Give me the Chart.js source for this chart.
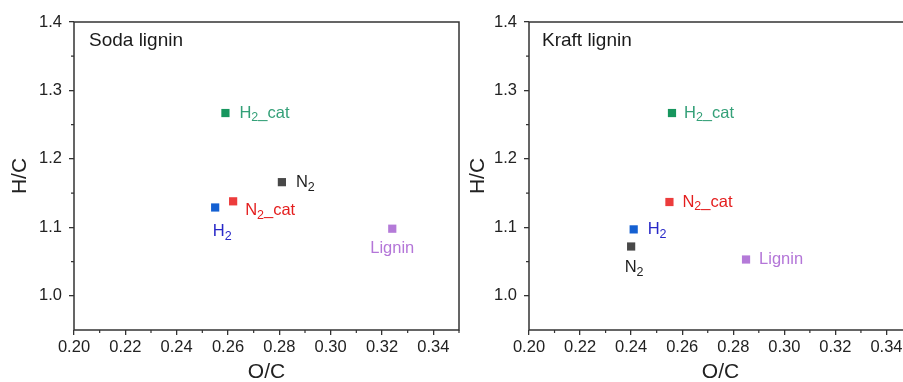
<!DOCTYPE html>
<html><head><meta charset="utf-8">
<script src="https://cdn.jsdelivr.net/npm/chart.js@4/dist/chart.umd.min.js"></script>
<style>
html,body{margin:0;padding:0;background:#fff;overflow:hidden;width:903px;height:382px;position:relative}
.wrap{position:absolute;top:0;height:382px}
#w1{left:0;width:461px}
#clip{position:absolute;left:460px;top:0;width:443px;height:382px;overflow:hidden}
#w2{left:0;width:454px}
</style></head><body>
<div class="wrap" id="w1"><canvas id="c1"></canvas></div>
<div id="clip"><div class="wrap" id="w2"><canvas id="c2"></canvas></div></div>
<script>
// ---- data ----
const seriesNames = ['N2', 'H2', 'N2_cat', 'H2_cat', 'Lignin'];
const sodaOC  = [0.281, 0.255, 0.262, 0.259, 0.324];
const sodaHC  = [1.166, 1.129, 1.138, 1.267, 1.098];
const kraftOC = [0.240, 0.241, 0.255, 0.256, 0.285];
const kraftHC = [1.072, 1.097, 1.137, 1.267, 1.053];
const xTickValues = [0.20, 0.22, 0.24, 0.26, 0.28, 0.30, 0.32, 0.34];
const xMinorValues = [0.21, 0.23, 0.25, 0.27, 0.29, 0.31, 0.33, 0.35];
const yTickValues = [1.0, 1.1, 1.2, 1.3, 1.4];
const yMinorValues = [1.05, 1.15, 1.25, 1.35];
const panelTitles = ['Soda lignin', 'Kraft lignin'];

// ---- styles ----
const FONT = '"Liberation Sans", Arial, sans-serif';
const markerColors = ['#484848', '#1460d2', '#ec3c3c', '#17965e', '#b47ad8'];
const textColors   = ['#1e1e1e', '#2828c8', '#e41e1e', '#34a078', '#b476d8'];
const AXIS = '#333333';

// label placement relative to each marker: [dx, dy, align]
const sodaLabelPos  = [[14, 0, 'left'], [7, 24, 'center'], [12, 9, 'left'], [14, 0, 'left'], [0, 20, 'center']];
const kraftLabelPos = [[3, 21, 'center'], [14, 0, 'left'], [13, 0, 'left'], [12, 0, 'left'], [13, 0, 'left']];

function drawSubText(ctx, text, x, y, align, color) {
  const big = '16.5px ' + FONT, small = '12.5px ' + FONT;
  const parts = text.split(/(\d)/).filter(s => s.length);
  ctx.save();
  ctx.textBaseline = 'middle';
  ctx.textAlign = 'left';
  ctx.fillStyle = color;
  let w = 0;
  parts.forEach(p => { ctx.font = /\d/.test(p) ? small : big; w += ctx.measureText(p).width; });
  let cx = align === 'center' ? x - w / 2 : x;
  parts.forEach(p => {
    const sub = /\d/.test(p);
    ctx.font = sub ? small : big;
    ctx.fillText(p, cx, sub ? y + 5 : y);
    cx += ctx.measureText(p).width;
  });
  ctx.restore();
}

const framePlugin = {
  id: 'frame',
  afterDraw(chart) {
    const {ctx, chartArea: a, scales} = chart;
    const opts = chart.options.plugins.frame;
    ctx.save();
    ctx.strokeStyle = AXIS;
    ctx.lineWidth = 1.5;
    ctx.strokeRect(a.left, a.top, a.right - a.left, a.bottom - a.top);
    ctx.lineWidth = 1.2;
    ctx.beginPath();
    xMinorValues.forEach(v => {
      const px = scales.x.getPixelForValue(v);
      ctx.moveTo(px, a.bottom); ctx.lineTo(px, a.bottom + 3);
    });
    yMinorValues.forEach(v => {
      const py = scales.y.getPixelForValue(v);
      ctx.moveTo(a.left, py); ctx.lineTo(a.left - 3, py);
    });
    ctx.stroke();
    // panel title
    ctx.fillStyle = '#1a1a1a';
    ctx.font = '19px ' + FONT;
    ctx.textBaseline = 'middle';
    ctx.textAlign = 'left';
    ctx.fillText(opts.title, a.left + opts.titleDx, 41);
    // point labels
    const meta = chart.getDatasetMeta(0);
    meta.data.forEach((pt, i) => {
      const [dx, dy, al] = opts.labelPos[i];
      drawSubText(ctx, seriesNames[i], pt.x + dx, pt.y + dy, al, textColors[i]);
    });
    ctx.restore();
  }
};

function makeChart(id, oc, hc, title, titleDx, labelPos, yAxisWidth, yTitlePad) {
  return new Chart(document.getElementById(id), {
    type: 'scatter',
    data: {
      datasets: [{
        data: oc.map((v, i) => ({x: v, y: hc[i]})),
        pointStyle: 'rect',
        pointRadius: 5.8,
        pointHoverRadius: 5.8,
        backgroundColor: markerColors,
        borderColor: markerColors,
        borderWidth: 0
      }]
    },
    options: {
      responsive: true,
      maintainAspectRatio: false,
      animation: false,
      layout: {autoPadding: false, padding: {left: 0, top: 22, right: 2, bottom: 0}},
      plugins: {
        legend: {display: false},
        tooltip: {enabled: false},
        frame: {title: title, titleDx: titleDx, labelPos: labelPos}
      },
      scales: {
        x: {
          type: 'linear', min: 0.20, max: 0.35,
          afterBuildTicks: s => { s.ticks = xTickValues.map(v => ({value: v})); },
          afterFit: s => { s.height = 52; s.paddingLeft = 0; s.paddingRight = 0; },
          ticks: {callback: v => v.toFixed(2), color: '#222', font: {family: FONT, size: 16.5}, padding: 3, maxRotation: 0, autoSkip: false},
          grid: {drawOnChartArea: false, drawTicks: true, tickLength: 5, color: AXIS, lineWidth: 1.3},
          border: {display: false},
          title: {display: true, text: 'O/C', color: '#222', font: {family: FONT, size: 21, lineHeight: 1}, padding: {top: 0, bottom: -1}}
        },
        y: {
          type: 'linear', min: 0.95, max: 1.4,
          afterBuildTicks: s => { s.ticks = yTickValues.map(v => ({value: v})); },
          afterFit: s => { s.width = yAxisWidth; s.paddingTop = 0; s.paddingBottom = 0; },
          ticks: {callback: v => v.toFixed(1), color: '#222', font: {family: FONT, size: 16.5}, padding: 7},
          grid: {drawOnChartArea: false, drawTicks: true, tickLength: 5, color: AXIS, lineWidth: 1.3},
          border: {display: false},
          title: {display: true, text: 'H/C', color: '#222', font: {family: FONT, size: 21, lineHeight: 1}, padding: {top: yTitlePad, bottom: 0}}
        }
      }
    },
    plugins: [framePlugin]
  });
}

makeChart('c1', sodaOC, sodaHC, panelTitles[0], 15, sodaLabelPos, 74, 10);
makeChart('c2', kraftOC, kraftHC, panelTitles[1], 13, kraftLabelPos, 69, 7.5);
</script>
</body></html>
